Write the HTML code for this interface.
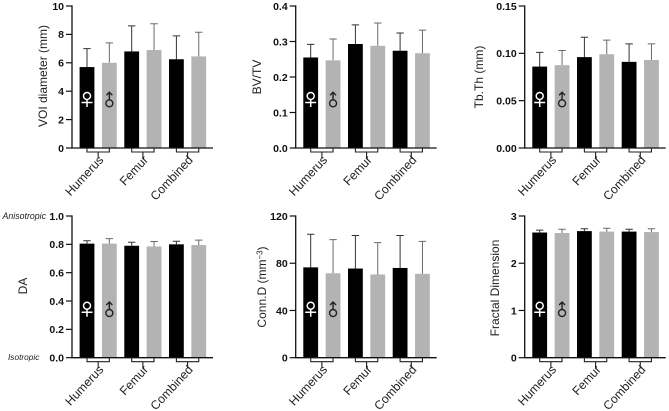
<!DOCTYPE html>
<html>
<head>
<meta charset="utf-8">
<style>
html,body{margin:0;padding:0;background:#fff;width:669px;height:411px;overflow:hidden}
svg{display:block}
text{font-family:"Liberation Sans",Arial,sans-serif}
</style>
</head>
<body>
<svg id="figure" width="669" height="411" viewBox="0 0 669 411" xmlns="http://www.w3.org/2000/svg"></svg>
<script>
const categories = ['Humerus', 'Femur', 'Combined'];
const voiMeans = [5.7, 6.0, 6.8, 6.9, 6.25, 6.45];
const voiTops = [7.0, 7.4, 8.6, 8.75, 7.9, 8.15];
const voiTicks = ['0', '2', '4', '6', '8', '10'];
const bvMeans = [0.255, 0.247, 0.293, 0.288, 0.274, 0.267];
const bvTops = [0.292, 0.307, 0.347, 0.352, 0.324, 0.332];
const bvTicks = ['0.0', '0.1', '0.2', '0.3', '0.4'];
const tbMeans = [0.086, 0.0875, 0.096, 0.099, 0.091, 0.093];
const tbTops = [0.101, 0.103, 0.117, 0.114, 0.110, 0.110];
const tbTicks = ['0.00', '0.05', '0.10', '0.15'];
const daMeans = [0.805, 0.805, 0.79, 0.785, 0.80, 0.795];
const daTops = [0.825, 0.84, 0.815, 0.82, 0.822, 0.83];
const daTicks = ['0.0', '0.2', '0.4', '0.6', '0.8', '1.0'];
const connMeans = [76.5, 71.5, 75.5, 70.5, 76, 71];
const connTops = [104.5, 100, 103.5, 97.5, 103.5, 98.5];
const connTicks = ['0', '40', '80', '120'];
const fdMeans = [2.65, 2.64, 2.68, 2.67, 2.67, 2.66];
const fdTops = [2.70, 2.72, 2.73, 2.74, 2.72, 2.73];
const fdTicks = ['0', '1', '2', '3'];

const NS = 'http://www.w3.org/2000/svg';
const root = document.getElementById('figure');
function mk(parent, tag, attrs, txt) {
  const el = document.createElementNS(NS, tag);
  for (const k in attrs) el.setAttribute(k, attrs[k]);
  if (txt !== undefined) el.textContent = txt;
  parent.appendChild(el);
  return el;
}
function drawPanel(key, ax, top, base, means, tops, ticks, title, titleX, titleY) {
  const g = mk(root, 'g', {});
  
  
  const tickMax = parseFloat(ticks[ticks.length - 1]);
  const tickMin = parseFloat(ticks[0]);
  const y = v => base - (v - tickMin) / (tickMax - tickMin) * (base - top);
  const x = i => ax + 7.6 + i * 22.35;
  const bw = 14.8;
  means.forEach((m, i) => {
    const cx = x(i) + bw / 2;
    const col = i % 2 ? '#6a6a6a' : '#333333';
    const err = mk(g, 'path', {d: 'M' + cx + ' ' + y(m) + 'V' + y(tops[i]) + 'M' + (cx - 3.7) + ' ' + y(tops[i]) + 'H' + (cx + 3.7), stroke: col, 'stroke-width': 1, fill: 'none'});
    
    
    const bar = mk(g, 'rect', {x: x(i), y: y(m), width: bw, height: base - y(m), fill: i % 2 ? '#b3b3b3' : '#000000'});
    
    
  });
  ticks.forEach(t => {
    const v = parseFloat(t);
    const tk = mk(g, 'path', {d: 'M' + (ax - 6) + ' ' + y(v) + 'H' + ax, stroke: '#111', 'stroke-width': 1.2});
    
    
    const lb = mk(g, 'text', {x: ax - 8, y: y(v) + 3.8, 'text-anchor': 'end', 'font-size': 10.5, 'font-weight': 'bold', fill: '#111'}, t);
    
    
  });
  const axes = mk(g, 'path', {d: 'M' + ax + ' ' + (top - 0.6) + 'V' + base + 'H' + (ax + 141), stroke: '#111', 'stroke-width': 1.3, fill: 'none'});
  
  
  categories.forEach((c, i) => {
    const xl = x(i * 2) + bw / 2, xr = x(i * 2 + 1) + bw / 2, mid = (xl + xr) / 2;
    const br = mk(g, 'path', {d: 'M' + xl + ' ' + base + 'V' + (base + 4) + 'H' + xr + 'V' + base + 'M' + mid + ' ' + (base + 4) + 'V' + (base + 10.5), stroke: '#222', 'stroke-width': 1.1, fill: 'none'});
    
    
    const px = mid + 6, py = base + 12.5;
    const lb = mk(g, 'text', {x: px, y: py, 'text-anchor': 'end', 'font-size': 12.2, fill: '#222', transform: 'rotate(-47 ' + px + ' ' + py + ')'}, c);
    
    
  });
  const ti = mk(g, 'text', {x: 0, y: 0, 'text-anchor': 'middle', 'font-size': 12, fill: '#222', transform: 'translate(' + titleX + ' ' + titleY + ') rotate(-90)'});
  
  
  if (Array.isArray(title)) {
    mk(ti, 'tspan', {}, title[0]);
    mk(ti, 'tspan', {dy: -3.5, 'font-size': 8}, title[1]);
    mk(ti, 'tspan', {dy: 3.5}, title[2]);
  } else {
    ti.textContent = title;
  }
  const fx = x(0) + bw / 2, mx = x(1) + bw / 2;
  const fe = mk(g, 'g', {stroke: '#fff', fill: 'none', 'stroke-width': 1.5});
  
  
  mk(fe, 'circle', {cx: fx, cy: base - 52, r: 3.5});
  mk(fe, 'path', {d: 'M' + fx + ' ' + (base - 48.5) + 'V' + (base - 41) + 'M' + (fx - 5.5) + ' ' + (base - 45.5) + 'H' + (fx + 5.5)});
  const ma = mk(g, 'g', {stroke: '#222', fill: 'none', 'stroke-width': 1.4});
  
  
  mk(ma, 'circle', {cx: mx, cy: base - 44.7, r: 3.5});
  mk(ma, 'path', {d: 'M' + mx + ' ' + (base - 48.2) + 'V' + (base - 55.7) + 'M' + (mx - 3) + ' ' + (base - 52.7) + 'L' + mx + ' ' + (base - 55.7) + 'L' + (mx + 3) + ' ' + (base - 52.7)});
}
drawPanel('voi', 72, 6, 148, voiMeans, voiTops, voiTicks, 'VOI diameter (mm)', 47, 76);
drawPanel('bvtv', 295.7, 6, 148, bvMeans, bvTops, bvTicks, 'BV/TV', 261, 77);
drawPanel('tbth', 524.7, 6, 148, tbMeans, tbTops, tbTicks, 'Tb.Th (mm)', 483, 77);
drawPanel('da', 72, 216, 357.7, daMeans, daTops, daTicks, 'DA', 27, 286);
drawPanel('conn', 295.7, 216, 357.7, connMeans, connTops, connTicks, ['Conn.D (mm', '−3', ')'], 266, 287);
drawPanel('fd', 524.7, 216, 357.7, fdMeans, fdTops, fdTicks, 'Fractal Dimension', 499, 288);
const an = mk(root, 'text', {x: 2.5, y: 219, 'font-size': 8.8, 'font-style': 'italic', fill: '#222'}, 'Anisotropic');


const iso = mk(root, 'text', {x: 8, y: 360, 'font-size': 8.3, 'font-style': 'italic', fill: '#222'}, 'Isotropic');


</script>
</body>
</html>
